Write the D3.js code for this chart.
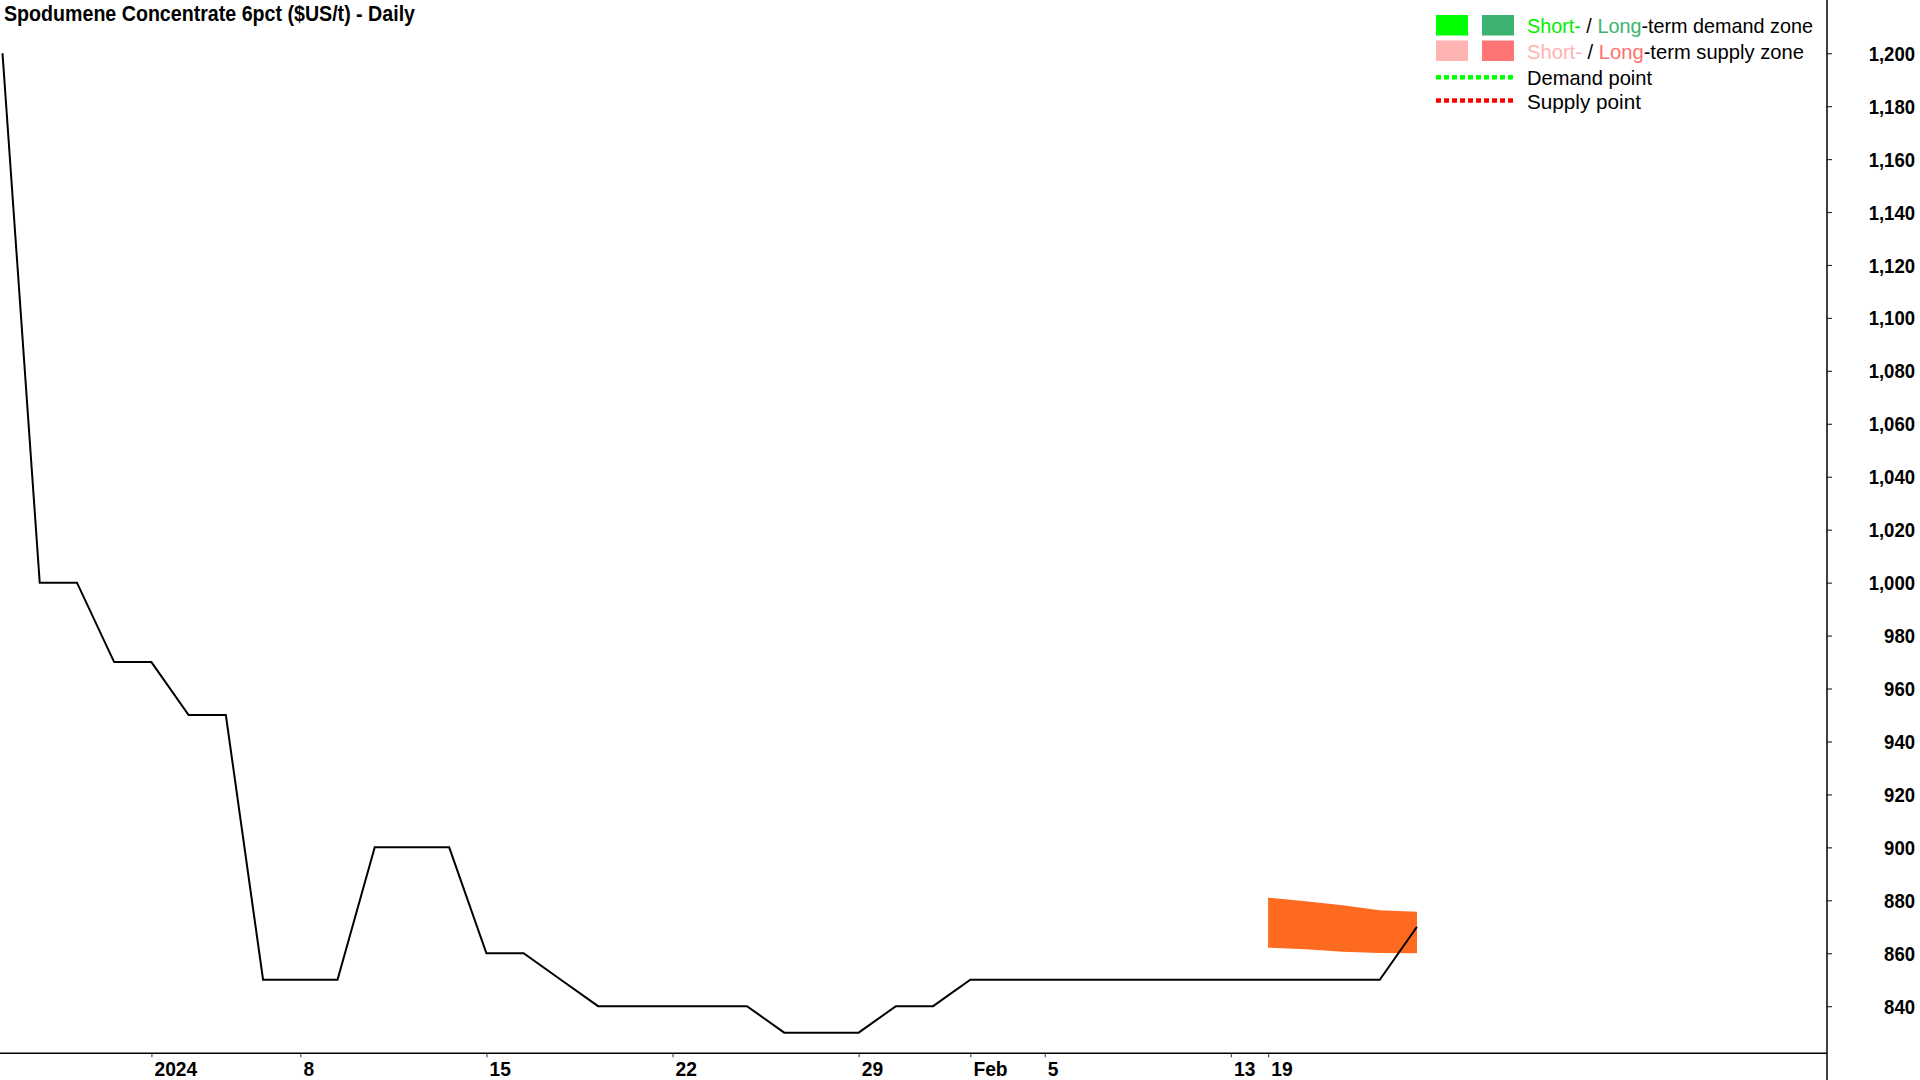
<!DOCTYPE html>
<html>
<head>
<meta charset="utf-8">
<script src="https://cdn.jsdelivr.net/npm/d3@7"></script>
<style>
html,body{margin:0;padding:0;background:#fff;}
svg{display:block;}
text{font-family:"Liberation Sans",Arial,sans-serif;}
</style>
</head>
<body>
<svg id="chart" width="1920" height="1080"></svg>
<script>
// ---- data ----
const dates = ["2023-12-26","2023-12-27","2023-12-28","2023-12-29",
  "2024-01-02","2024-01-03","2024-01-04","2024-01-05",
  "2024-01-08","2024-01-09","2024-01-10","2024-01-11","2024-01-12",
  "2024-01-15","2024-01-16","2024-01-17","2024-01-18","2024-01-19",
  "2024-01-22","2024-01-23","2024-01-24","2024-01-25","2024-01-26",
  "2024-01-29","2024-01-30","2024-01-31","2024-02-01","2024-02-02",
  "2024-02-05","2024-02-06","2024-02-07","2024-02-08","2024-02-09",
  "2024-02-13","2024-02-19","2024-02-20","2024-02-21","2024-02-22","2024-02-23"];
const prices = [1200,1000,1000,970,970,950,950,850,850,850,900,900,900,860,860,850,840,840,840,840,840,830,830,830,840,840,850,850,850,850,850,850,850,850,850,850,850,850,870];
const zoneDates = ["2024-02-19","2024-02-20","2024-02-21","2024-02-22","2024-02-23"];
const zoneTop = [881.0,879.6,878.1,876.2,875.7];
const zoneBottom = [862.1,861.5,860.6,860.1,860.0];
const tickDates = ["2024-01-02","2024-01-08","2024-01-15","2024-01-22","2024-01-29","2024-02-01","2024-02-05","2024-02-13","2024-02-19"];
const tickLabels = ["2024","8","15","22","29","Feb","5","13","19"];
const yTicks = [840,860,880,900,920,940,960,980,1000,1020,1040,1060,1080,1100,1120,1140,1160,1180,1200];
const title = "Spodumene Concentrate 6pct ($US/t) - Daily";

const svg = d3.select("#chart");
const axisX = 1827, axisY = 1053.3;

const x = d3.scalePoint().domain(dates).range([2.5, 1417]);
const y = d3.scaleLinear().domain([822.2, 1220.1]).range([axisY, 0]);

// supply zone
const zoneData = zoneDates.map((d,i)=>({d, t:zoneTop[i], b:zoneBottom[i]}));
svg.append("path").datum(zoneData)
  .attr("fill","#ff6a21")
  .attr("d", d3.area().x(d=>x(d.d)).y0(d=>y(d.b)).y1(d=>y(d.t)));

// price line
svg.append("path").datum(prices)
  .attr("fill","none").attr("stroke","#000").attr("stroke-width",2)
  .attr("stroke-linejoin","miter")
  .attr("d", d3.line().x((d,i)=>x(dates[i])).y(d=>y(d)));

// axes
const gx = svg.append("g").attr("transform",`translate(0,${axisY})`)
  .call(d3.axisBottom(x).tickValues(tickDates).tickSize(4)
    .tickFormat(d=>tickLabels[tickDates.indexOf(d)]));
gx.select(".domain").remove();
gx.selectAll(".tick line").attr("stroke","#555").attr("stroke-width",1.2);
gx.selectAll(".tick text").attr("fill","#000")
  .attr("font-size",21).attr("font-weight","bold")
  .attr("font-family","'Liberation Sans',Arial,sans-serif")
  .attr("text-anchor","start").attr("x",2.6).attr("y",22.7).attr("dy",0)
  .each(function(){ const w=this.getComputedTextLength(); d3.select(this).attr("textLength",w*0.915).attr("lengthAdjust","spacingAndGlyphs");});
svg.append("line").attr("x1",0).attr("x2",axisX).attr("y1",axisY).attr("y2",axisY)
  .attr("stroke","#000").attr("stroke-width",1.5);

const gy = svg.append("g").attr("transform",`translate(${axisX},0)`)
  .call(d3.axisRight(y).tickValues(yTicks).tickSize(5).tickFormat(d3.format(",")));
gy.select(".domain").remove();
gy.selectAll(".tick line").attr("stroke","#333").attr("stroke-width",1.2);
gy.selectAll(".tick text").attr("fill","#000")
  .attr("font-size",19.5).attr("font-weight","bold")
  .attr("font-family","'Liberation Sans',Arial,sans-serif")
  .attr("text-anchor","end").attr("x",88).attr("dy","0.36em")
  .each(function(){ const w=this.getComputedTextLength(); d3.select(this).attr("textLength",w*0.95).attr("lengthAdjust","spacingAndGlyphs");});
svg.append("line").attr("x1",axisX).attr("x2",axisX).attr("y1",0).attr("y2",1080)
  .attr("stroke","#000").attr("stroke-width",1.5);

// title
svg.append("text").attr("x",4).attr("y",20.5)
  .attr("font-size",22).attr("font-weight","bold").attr("fill","#000")
  .attr("textLength",411).attr("lengthAdjust","spacingAndGlyphs")
  .text(title);

// legend
const lg = svg.append("g");
const boxes = [
  {x:1436,y:15,c:"#00ff00"},{x:1482,y:15,c:"#3cb371"},
  {x:1436,y:40.5,c:"#ffb3b3"},{x:1482,y:40.5,c:"#ff7575"}];
lg.selectAll("rect").data(boxes).join("rect")
  .attr("x",d=>d.x).attr("y",d=>d.y).attr("width",32).attr("height",20.5).attr("fill",d=>d.c);
const dots = [{y:77.3,c:"#00ff00"},{y:100.5,c:"#ff0000"}];
lg.selectAll("line").data(dots).join("line")
  .attr("x1",1436).attr("x2",1515).attr("y1",d=>d.y).attr("y2",d=>d.y)
  .attr("stroke",d=>d.c).attr("stroke-width",4.5).attr("stroke-dasharray","5 3");
const rows = [
  {y:33.3,w:286,parts:[["Short-","#00ee00"],[" / ","#000"],["Long","#3cb371"],["-term demand zone","#000"]]},
  {y:58.8,w:277,parts:[["Short-","#ffb3b3"],[" / ","#000"],["Long","#ff7070"],["-term supply zone","#000"]]},
  {y:84.6,w:125,parts:[["Demand point","#000"]]},
  {y:108.5,w:114,parts:[["Supply point","#000"]]}];
rows.forEach(r=>{
  const t = lg.append("text").attr("x",1527).attr("y",r.y).attr("font-size",21)
    .attr("textLength",r.w).attr("lengthAdjust","spacingAndGlyphs");
  r.parts.forEach(p=>t.append("tspan").attr("fill",p[1]).text(p[0]));
});
</script>
</body>
</html>
